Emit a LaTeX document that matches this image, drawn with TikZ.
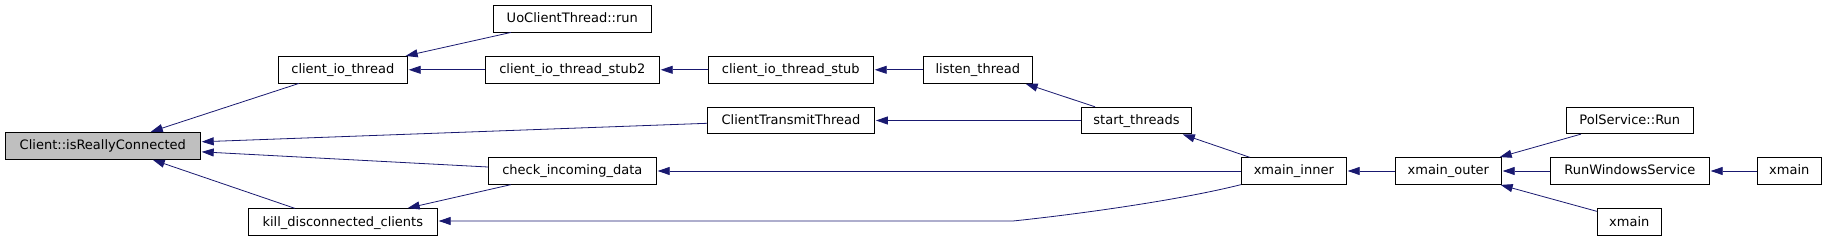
\documentclass[tikz,border=0pt]{standalone}
\usepackage{fontspec}
\setmainfont{DejaVu Sans}
\usetikzlibrary{arrows.meta,calc}
\definecolor{edgeblue}{HTML}{191970}
\definecolor{focusgray}{HTML}{BFBFBF}
\begin{document}
\begin{tikzpicture}[x=1pt,y=-1pt,
  fn/.style={draw=black, line width=0.8pt, fill=white, inner sep=0pt,
    minimum height=26.5pt, text height=10pt, text depth=2pt,
    font=\fontsize{13}{15}\selectfont, anchor=center},
  call/.style={draw=edgeblue, line width=0.8pt, shorten <=1pt, {Triangle[length=12pt,width=8pt]}-}
]
\useasboundingbox (0,0) rectangle (1827,240);
% nodes
\node[fn, fill=focusgray, minimum width=195pt] (cli) at (102.8,145.8) {Client::isReallyConnected};
\node[fn, minimum width=129pt] (cit) at (342.8,69.8) {client\_io\_thread};
\node[fn, minimum width=189pt] (kdc) at (342.8,222) {kill\_disconnected\_clients};
\node[fn, minimum width=158pt] (uo) at (572.3,18.8) {UoClientThread::run};
\node[fn, minimum width=174pt] (stub2) at (572.3,69.8) {client\_io\_thread\_stub2};
\node[fn, minimum width=165pt] (stub) at (790.8,69.8) {client\_io\_thread\_stub};
\node[fn, minimum width=167pt] (ctt) at (791,120.5) {ClientTransmitThread};
\node[fn, minimum width=168pt] (cid) at (572.3,171) {check\_incoming\_data};
\node[fn, minimum width=109pt] (listen) at (977.8,69.8) {listen\_thread};
\node[fn, minimum width=110pt] (st) at (1136.5,120.5) {start\_threads};
\node[fn, minimum width=105pt] (xi) at (1293.8,171) {xmain\_inner};
\node[fn, minimum width=106pt] (xo) at (1448.3,171) {xmain\_outer};
\node[fn, minimum width=127pt] (pol) at (1629.8,120.5) {PolService::Run};
\node[fn, minimum width=159pt] (rws) at (1629.8,171) {RunWindowsService};
\node[fn, minimum width=64pt] (xma) at (1789.3,171) {xmain};
\node[fn, minimum width=64pt] (xmb) at (1629.3,222) {xmain};
% connectors (arrow at the called function)
\draw[call] ($(cli.north)+(47,0)$) -- ($(cit.south west)+(21,0)$);
\draw[call] ($(cli.east)+(0,-4)$) -- ($(ctt.west)+(0,2.8)$);
\draw[call] ($(cli.east)+(0,6)$) -- ($(cid.west)+(0,-4)$);
\draw[call] ($(cli.south)+(49,0)$) -- ($(kdc.north west)+(47,0)$);
\draw[call] ($(cit.north east)+(-3,0)$) -- ($(uo.south west)+(18,0)$);
\draw[call] (cit.east) -- (stub2.west);
\draw[call] (stub2.east) -- (stub.west);
\draw[call] (stub.east) -- (listen.west);
\draw[call] ($(listen.south east)+(-8,0)$) -- ($(st.north west)+(14,0)$);
\draw[call] (ctt.east) -- (st.west);
\draw[call] ($(st.south east)+(-10,0)$) -- ($(xi.north west)+(9,0)$);
\draw[call] (cid.east) -- (xi.west);
\coordinate (bend) at (1013,221);
\draw[call] ($(kdc.east)+(0,-1)$) -- (bend) .. controls (1080,214) and (1180,200) .. (xi.south west);
\draw[call] ($(kdc.north east)+(-31,0)$) -- ($(cid.south west)+(23,0)$);
\draw[call] (xi.east) -- (xo.west);
\draw[call] ($(xo.north east)+(-3,0)$) -- ($(pol.south west)+(15,0)$);
\draw[call] (xo.east) -- (rws.west);
\draw[call] (rws.east) -- (xma.west);
\draw[call] ($(xo.south east)+(-2,0)$) -- ($(xmb.north west)+(0,3)$);
\end{tikzpicture}
\end{document}
